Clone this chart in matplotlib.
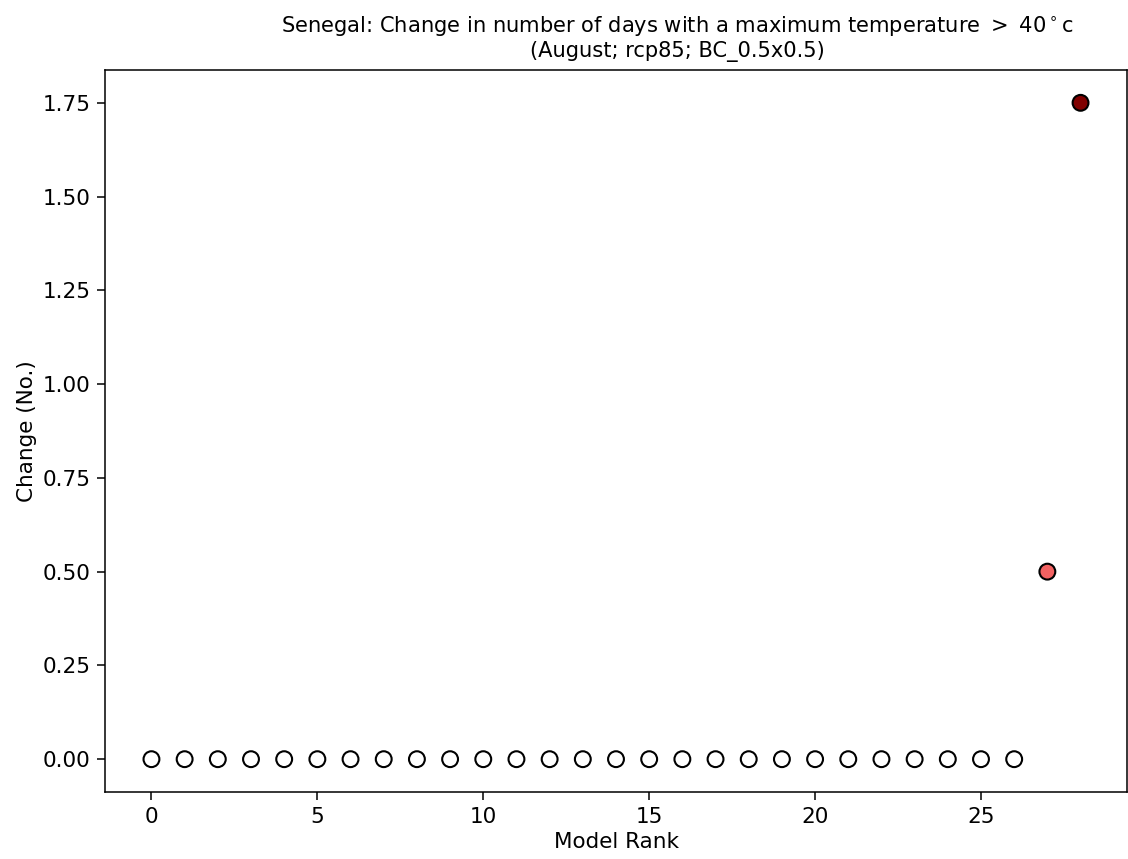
import matplotlib
matplotlib.use("Agg")
import matplotlib.pyplot as plt

# Change in number of hot days per model, ranked
ranks = list(range(29))
changes = [0.0] * 27 + [0.5, 1.75]
face_colors = ["white"] * 27 + ["#f26262", "#800000"]

plt.rcParams["font.size"] = 15.5
plt.rcParams["axes.linewidth"] = 1.1
for axis in ("xtick", "ytick"):
    plt.rcParams[f"{axis}.major.size"] = 5.5
    plt.rcParams[f"{axis}.major.width"] = 1.1
    plt.rcParams[f"{axis}.major.pad"] = 5

fig = plt.figure(figsize=(11.28, 8.59), dpi=100)
ax = fig.add_axes([105 / 1128, 1 - 792 / 859, 1022 / 1128, 722 / 859])

ax.scatter(ranks, changes, s=130, c=face_colors, edgecolors="black",
           linewidths=1.5, zorder=3)

ax.set_xlabel("Model Rank")
ax.set_ylabel("Change (No.)")
ax.set_title("Senegal: Change in number of days with a maximum temperature $>$ 40$^\\circ$c\n"
             "(August; rcp85; BC_0.5x0.5)", fontsize=15.1, x=0.56, pad=9)
ax.yaxis.set_major_formatter(matplotlib.ticker.FormatStrFormatter("%.2f"))

fig.savefig("out.png", dpi=100)
